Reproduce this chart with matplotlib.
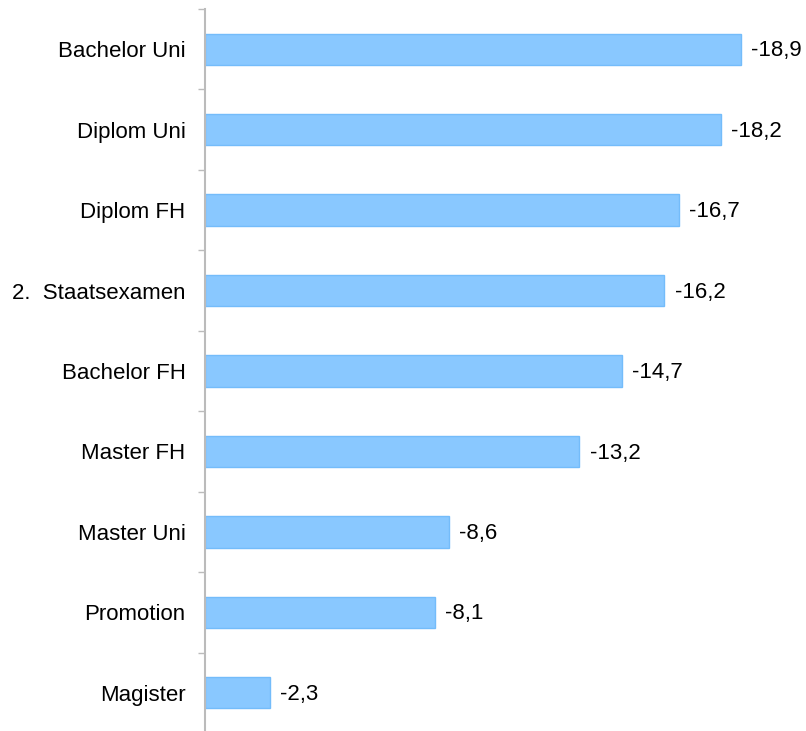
import matplotlib
matplotlib.use("Agg")
import numpy as np
import matplotlib.pyplot as plt

plt.rcParams['font.family'] = ['Liberation Sans', 'DejaVu Sans']

# categories from top to bottom
categories = ["Bachelor Uni", "Diplom Uni", "Diplom FH", "2.  Staatsexamen",
              "Bachelor FH", "Master FH", "Master Uni", "Promotion", "Magister"]
values = [-18.9, -18.2, -16.7, -16.2, -14.7, -13.2, -8.6, -8.1, -2.3]

fig = plt.figure(figsize=(8.06, 7.31), dpi=100)
ax = fig.add_axes([205/806, -2/731, 585/806, 724/731])

n = len(categories)
ypos = np.arange(n)[::-1]
mag = [abs(v) for v in values]

ax.barh(ypos, mag, height=0.39, color='#89C8FF', edgecolor='#74BCFA', linewidth=1)

for y, m, v in zip(ypos, mag, values):
    ax.text(m + 0.36, y - 0.02, ("%.1f" % v).replace('.', ','), va='center', ha='left',
            fontsize=16, color='black')

ax.set_xlim(0, 585/28.36)
ax.set_ylim(-0.5, n - 0.5)

# labels at bar centers, tick marks at the category boundaries
ax.set_yticks(ypos)
ax.set_yticklabels(categories, fontsize=16, color='black')
ax.tick_params(axis='y', which='major', length=0, pad=14)
ax.set_yticks(np.arange(n + 1) - 0.5, minor=True)
ax.tick_params(axis='y', which='minor', length=5, width=1, color='#BBBBBB')

ax.set_xticks([])
for s in ['top', 'right', 'bottom']:
    ax.spines[s].set_visible(False)
ax.spines['left'].set_color('#BBBBBB')
ax.spines['left'].set_linewidth(1.5)

fig.savefig("out.png", dpi=100)
